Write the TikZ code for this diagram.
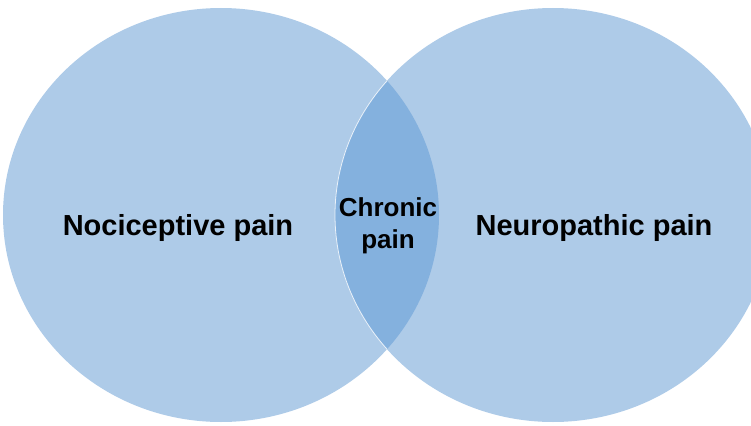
\documentclass[tikz,border=0pt]{standalone}
\usepackage{fontspec}
\setmainfont{Liberation Sans}
\definecolor{circfill}{RGB}{174,203,232}
\definecolor{lensfill}{RGB}{132,177,222}
\begin{document}
\begin{tikzpicture}[x=1pt,y=-1pt,
  lbl/.style={font=\fontsize{29}{34}\selectfont\bfseries, text=black, inner sep=0pt, align=center},
  lbls/.style={font=\fontsize{26}{32}\selectfont\bfseries, text=black, inner sep=0pt, align=center}]
\useasboundingbox (0,0) rectangle (751,425);
\clip (0,0) rectangle (751,425);
\fill[circfill] (221,215) ellipse [x radius=218, y radius=207];
\fill[circfill] (553,215) ellipse [x radius=218, y radius=207];
\begin{scope}
  \clip (221,215) ellipse [x radius=218, y radius=207];
  \fill[lensfill] (553,215) ellipse [x radius=218, y radius=207];
  \draw[white, line width=0.8pt, opacity=0.8] (553,215) ellipse [x radius=218, y radius=207];
\end{scope}
\node[lbl] (noci) at (178,228) {Nociceptive pain};
\node[lbl] (neuro) at (594,228) {Neuropathic pain};
\node[lbls] (chronic) at (388,226) {Chronic\\pain};
\end{tikzpicture}
\end{document}
